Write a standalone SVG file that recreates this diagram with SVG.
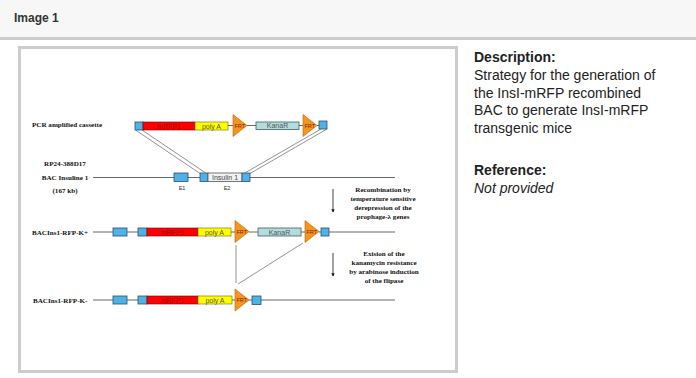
<svg xmlns="http://www.w3.org/2000/svg" width="696" height="378" viewBox="0 0 696 378">
<defs>
<style>
.lbl{font-family:"Liberation Serif",serif;font-weight:bold;font-size:7.1px;fill:#111}
.note{font-family:"Liberation Serif",serif;font-weight:bold;font-size:7.1px;fill:#111;text-anchor:middle}
.in{font-family:"Liberation Sans",Arial,sans-serif;font-size:7px;text-anchor:middle}
.frt{font-family:"Liberation Sans",Arial,sans-serif;font-size:5.5px;fill:#7a2a00}
.ex{font-family:"Liberation Sans",Arial,sans-serif;font-size:5.5px;fill:#333;text-anchor:middle}
.blue{fill:#4db3e6;stroke:#2c4f6e;stroke-width:0.8}
.red{fill:#ff0000;stroke:#7a0000;stroke-width:0.6}
.yel{fill:#ffff00;stroke:#6b6b00;stroke-width:0.6}
.kan{fill:#b4dcdc;stroke:#3d6262;stroke-width:0.8}
.ins{fill:#f2f2f2;stroke:#555;stroke-width:0.8}
.tri{fill:#f7941d;stroke:#b86200;stroke-width:0.6}
.ln{stroke:#555;stroke-width:0.9;fill:none}
.ln2{stroke:#666;stroke-width:0.7;fill:none}
.desc{font-family:"Liberation Sans",Arial,sans-serif;font-size:14px;fill:#222}
</style>
<marker id="ah" viewBox="0 0 6 6" refX="5" refY="3" markerWidth="4" markerHeight="4" orient="auto">
<path d="M0,0 L6,3 L0,6 z" fill="#111"/>
</marker>
<symbol id="frt" overflow="visible">
<path class="tri" d="M0,-11 L14,0 L0,11 z"/>
<text class="frt" x="1.5" y="2">FRT</text>
</symbol>
</defs>

<rect x="0" y="0" width="696" height="378" fill="#ffffff"/>
<g id="header">
<rect x="0" y="0" width="696" height="37" fill="#f7f7f7"/>
<rect x="0" y="37" width="696" height="3" fill="#cccccc"/>
<text x="14" y="21.5" font-family="Liberation Sans,Arial,sans-serif" font-size="12" font-weight="bold" fill="#333">Image 1</text>
</g>

<rect id="frame" x="19.5" y="47.5" width="437" height="324" fill="#ffffff" stroke="#cccccc" stroke-width="3"/>

<g id="description">
<text class="desc" x="474" y="62" font-weight="bold">Description:</text>
<text class="desc" x="474" y="80">Strategy for the generation of</text>
<text class="desc" x="474" y="97.5">the InsI-mRFP recombined</text>
<text class="desc" x="474" y="115">BAC to generate InsI-mRFP</text>
<text class="desc" x="474" y="132.5">transgenic mice</text>
<text class="desc" x="474" y="175" font-weight="bold">Reference:</text>
<text class="desc" x="474" y="192.5" font-style="italic">Not provided</text>
</g>

<g id="connectors">
<line class="ln2" x1="135.5" y1="130" x2="200" y2="173.5"/>
<line class="ln2" x1="142" y1="130" x2="206.5" y2="173.5"/>
<line class="ln2" x1="321" y1="129" x2="244" y2="173.5"/>
<line class="ln2" x1="327" y1="129" x2="250" y2="173.5"/>
<line class="ln2" x1="236" y1="245" x2="236" y2="283"/>
<line class="ln2" x1="303" y1="243" x2="238" y2="284"/>
<line x1="333" y1="189" x2="333" y2="212" stroke="#111" stroke-width="0.8" marker-end="url(#ah)"/>
<line x1="333" y1="253" x2="333" y2="276" stroke="#111" stroke-width="0.8" marker-end="url(#ah)"/>
</g>

<g id="cassette">
<text class="lbl" x="32" y="126.5">PCR amplified cassette</text>
<line class="ln" x1="228" y1="125.5" x2="233" y2="125.5"/>
<line class="ln" x1="247" y1="125.5" x2="256" y2="125.5"/>
<line class="ln" x1="299" y1="125.5" x2="303" y2="125.5"/>
<line class="ln" x1="317" y1="125.5" x2="319" y2="125.5"/>
<rect class="blue" x="135" y="122" width="8" height="8"/>
<rect class="red" x="143" y="122" width="52" height="8"/>
<text class="in" x="169" y="128.5" fill="#9a0000">mRFP1</text>
<rect class="yel" x="195" y="122" width="33" height="8"/>
<text class="in" x="211.5" y="128.5" fill="#555">poly A</text>
<use href="#frt" x="233" y="125.5"/>
<rect class="kan" x="256" y="122" width="43" height="7.5"/>
<text class="in" x="277.5" y="128.3" fill="#555">KanaR</text>
<use href="#frt" x="303" y="125.5"/>
<rect class="blue" x="319" y="121" width="8" height="8"/>
</g>

<g id="bac">
<text class="note" x="65" y="166">RP24-388D17</text>
<text class="note" x="65" y="179.5">BAC Insuline 1</text>
<text class="note" x="65" y="193">(167 kb)</text>
<line class="ln" x1="93" y1="177.5" x2="395" y2="177.5"/>
<rect class="blue" x="174" y="173" width="14" height="8.5"/>
<rect class="blue" x="200" y="173" width="8" height="8.5"/>
<rect class="ins" x="208" y="173" width="34" height="8.5"/>
<text class="in" x="225" y="179.8" fill="#444">Insulin 1</text>
<rect class="blue" x="242" y="173" width="8" height="8.5"/>
<text class="ex" x="182" y="190">E1</text>
<text class="ex" x="227" y="190">E2</text>
</g>

<g id="step1">
<text class="note" x="383" y="192">Recombination by</text>
<text class="note" x="383" y="201">temperature sensitive</text>
<text class="note" x="383" y="210">derepression of the</text>
<text class="note" x="383" y="219">prophage-λ  genes</text>
</g>

<g id="kplus">
<text class="lbl" x="32" y="234.5">BACIns1-RFP-K+</text>
<line class="ln" x1="93" y1="232" x2="138" y2="232"/>
<line class="ln" x1="231" y1="232" x2="235" y2="232"/>
<line class="ln" x1="249" y1="232" x2="258" y2="232"/>
<line class="ln" x1="301" y1="232" x2="305" y2="232"/>
<line class="ln" x1="319" y1="232" x2="395" y2="232"/>
<rect class="blue" x="113" y="228" width="14" height="8"/>
<rect class="blue" x="138" y="228" width="9" height="8"/>
<rect class="red" x="147" y="228" width="51" height="8"/>
<text class="in" x="172.5" y="234.5" fill="#9a0000">mRFP1</text>
<rect class="yel" x="198" y="228" width="33" height="8"/>
<text class="in" x="214.5" y="234.5" fill="#555">poly A</text>
<use href="#frt" x="235" y="231.5"/>
<rect class="kan" x="258" y="228" width="43" height="8"/>
<text class="in" x="279.5" y="234.5" fill="#555">KanaR</text>
<use href="#frt" x="305" y="231.5"/>
<rect class="blue" x="321" y="228" width="8" height="8"/>
</g>

<g id="step2">
<text class="note" x="384" y="255.5">Exision of the</text>
<text class="note" x="384" y="264.5">kanamycin resistance</text>
<text class="note" x="384" y="273.5">by arabinose induction</text>
<text class="note" x="384" y="282.5">of the flipase</text>
</g>

<g id="kminus">
<text class="lbl" x="33" y="302.5">BACIns1-RFP-K-</text>
<line class="ln" x1="93" y1="300" x2="138" y2="300"/>
<line class="ln" x1="232" y1="300" x2="235" y2="300"/>
<line class="ln" x1="249" y1="300" x2="395" y2="300"/>
<rect class="blue" x="113" y="296" width="14" height="8"/>
<rect class="blue" x="138" y="296" width="9" height="8"/>
<rect class="red" x="147" y="296" width="51" height="8"/>
<text class="in" x="172.5" y="302.5" fill="#9a0000">mRFP1</text>
<rect class="yel" x="198" y="296" width="34" height="8"/>
<text class="in" x="215" y="302.5" fill="#555">poly A</text>
<use href="#frt" x="235" y="300"/>
<rect class="blue" x="252" y="296" width="9" height="8.5"/>
</g>
</svg>
